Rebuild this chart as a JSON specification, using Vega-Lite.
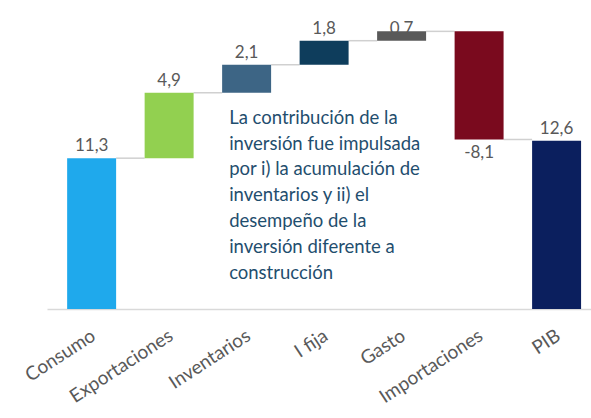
{
  "$schema": "https://vega.github.io/schema/vega-lite/v6.json",
  "autosize": {"type": "none"},
  "padding": {"left": 47, "top": 2, "right": 0, "bottom": 109},
  "width": 544,
  "height": 307,
  "background": "white",
  "config": {
    "view": {"stroke": null},
    "locale": {"number": {"decimal": ",", "thousands": ".", "grouping": [3], "currency": ["", ""], "minus": "-"}}
  },
  "datasets": {
    "bars": [
      {"cat": "Consumo", "value": 11.3, "start": 0, "end": 11.3, "next": "Exportaciones"},
      {"cat": "Exportaciones", "value": 4.9, "start": 11.3, "end": 16.2, "next": "Inventarios"},
      {"cat": "Inventarios", "value": 2.1, "start": 16.2, "end": 18.3, "next": "I fija"},
      {"cat": "I fija", "value": 1.8, "start": 18.3, "end": 20.1, "next": "Gasto"},
      {"cat": "Gasto", "value": 0.7, "start": 20.1, "end": 20.8, "next": "Importaciones"},
      {"cat": "Importaciones", "value": -8.1, "start": 20.8, "end": 12.7, "next": "PIB"},
      {"cat": "PIB", "value": 12.6, "start": 0, "end": 12.6, "next": null}
    ],
    "note": [
      {"anchor": "Inventarios", "y": 15.0, "text": ["La contribución de la", "inversión fue impulsada", "por i) la acumulación de", "inventarios y ii) el", "desempeño de la", "inversión diferente a", "construcción"]}
    ]
  },
  "data": {"name": "bars"},
  "encoding": {
    "x": {
      "field": "cat", "type": "nominal",
      "scale": {"domain": ["Consumo", "Exportaciones", "Inventarios", "I fija", "Gasto", "Importaciones", "PIB"], "paddingInner": 0.368, "paddingOuter": 0.194, "align": 0.67},
      "axis": {"title": null, "labelAngle": -33, "labelColor": "#595959", "labelFont": "Lato", "labelFontSize": 19, "labelPadding": 17, "labelOffset": -3, "ticks": false, "domainColor": "#D9D9D9", "domainWidth": 1.5}
    }
  },
  "layer": [
    {
      "transform": [{"filter": "datum.next != null"}],
      "mark": {"type": "rule", "color": "#D0D0D0", "strokeWidth": 1.5},
      "encoding": {
        "x": {"field": "cat", "type": "nominal", "bandPosition": 1},
        "x2": {"field": "next", "bandPosition": 0},
        "y": {"field": "end", "type": "quantitative", "scale": {"domain": [0, 23], "nice": false, "zero": true}, "axis": null}
      }
    },
    {
      "mark": {"type": "bar"},
      "encoding": {
        "y": {"field": "start", "type": "quantitative", "scale": {"domain": [0, 23], "nice": false}, "axis": null},
        "y2": {"field": "end"},
        "color": {
          "field": "cat", "type": "nominal", "legend": null,
          "scale": {"domain": ["Consumo", "Exportaciones", "Inventarios", "I fija", "Gasto", "Importaciones", "PIB"],
                    "range": ["#1FA9EC", "#92D050", "#3D6585", "#0E3D5C", "#595959", "#7A0A1E", "#0B1F5E"]}
        }
      }
    },
    {
      "transform": [{"filter": "datum.value >= 0"}, {"calculate": "min(datum.end, 20.1)", "as": "labelAt"}],
      "mark": {"type": "text", "baseline": "bottom", "dy": -3, "font": "Lato", "fontSize": 17, "color": "#595959"},
      "encoding": {
        "y": {"field": "labelAt", "type": "quantitative"},
        "text": {"field": "value", "type": "quantitative", "format": ".1f"}
      }
    },
    {
      "transform": [{"filter": "datum.value < 0"}],
      "mark": {"type": "text", "baseline": "top", "dy": 6, "font": "Lato", "fontSize": 17, "color": "#595959"},
      "encoding": {
        "y": {"field": "end", "type": "quantitative"},
        "text": {"field": "value", "type": "quantitative", "format": ".1f"}
      }
    },
    {
      "data": {"name": "note"},
      "mark": {"type": "text", "align": "left", "baseline": "top", "dx": 7, "font": "Lato", "fontSize": 18.5, "lineHeight": 25.8, "color": "#1F4E6E"},
      "encoding": {
        "x": {"field": "anchor", "type": "nominal", "bandPosition": 0},
        "y": {"field": "y", "type": "quantitative"},
        "text": {"field": "text"}
      }
    }
  ]
}
